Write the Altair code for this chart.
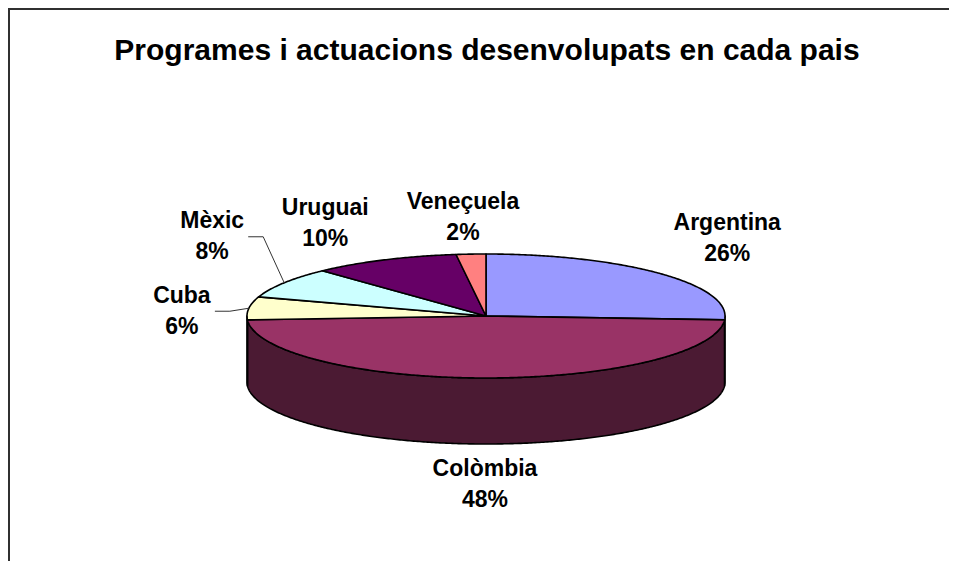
import math
import altair as alt
import pandas as pd

# ---------------- data ----------------
countries = ["Argentina", "Colòmbia", "Cuba", "Mèxic", "Uruguai", "Veneçuela"]
shares = [26, 48, 6, 8, 10, 2]
title_text = "Programes i actuacions desenvolupats en cada pais"

# ---------------- styles ----------------
top_colors = ["#9999FF", "#993366", "#FFFFCC", "#CCFFFF", "#660066", "#FF8080"]
side_colors = ["#4D4D80", "#4B1A33", "#808066", "#668080", "#330033", "#804040"]
FONT = "Liberation Sans"

# ---------------- layout (plot-area pixels) ----------------
M = 8
W, H = 941, 553
CX, CY = 486 - M, 316 - M
RX, RY = 239, 62
DEPTH = 66
STEP = 0.5
LINE_H = 31
# label block centre offset from the slice's rim point at its mid angle
label_offsets = {
    "Argentina": (67, -35),
    "Colòmbia": (-1, 40),
    "Cuba": (-67, 3),
    "Mèxic": (-72, -46),
    "Uruguai": (-59, -36),
    "Veneçuela": (-8, -37),
}
# leader lines: (start dx from label centre, elbow dx from label centre)
leaders = {"Mèxic": (36, 51), "Cuba": (33, 48)}


def pt(tdeg, dy=0.0):
    t = math.radians(tdeg)
    return [CX + RX * math.sin(t), CY - RY * math.cos(t) + dy]


def arc(a, b, dy=0.0):
    pts = []
    t = a
    while t < b:
        pts.append(pt(t, dy))
        t += STEP
    pts.append(pt(b, dy))
    return pts


total = sum(shares)
tops, sides, labels, lead_rows = [], [], [], []
cum = 0.0
for name, v in zip(countries, shares):
    t0 = cum / total * 360.0
    cum += v
    t1 = cum / total * 360.0
    ring = [[CX, CY]] + arc(t0, t1) + [[CX, CY]]
    tops.append({"type": "Feature", "properties": {"key": name},
                 "geometry": {"type": "Polygon", "coordinates": [ring]}})
    a, b = max(t0, 90.0), min(t1, 270.0)
    if a < b:
        upper = arc(a, b)
        lower = arc(a, b, DEPTH)[::-1]
        sring = upper + lower + [upper[0]]
        sides.append({"type": "Feature", "properties": {"key": name + " side"},
                      "geometry": {"type": "Polygon", "coordinates": [sring]}})
    tm = (t0 + t1) / 2.0
    ax, ay = pt(tm)
    if math.cos(math.radians(tm)) < 0:
        ay += DEPTH
    dx, dy = label_offsets[name]
    lx, ly = ax + dx, ay + dy
    labels.append({"lx": lx, "ly": ly - LINE_H / 2, "label": f"{name}\n{v}%"})
    if name in leaders:
        s, e = leaders[name]
        lead_rows += [
            {"name": name, "seq": 0, "x": lx + s, "y": ly},
            {"name": name, "seq": 1, "x": lx + e, "y": ly},
            {"name": name, "seq": 2, "x": ax, "y": ay},
        ]

domain = countries + [c + " side" for c in countries]
crange = top_colors + side_colors
color = alt.Color("properties.key:N", scale=alt.Scale(domain=domain, range=crange), legend=None)
proj = dict(type="identity", scale=1, translate=[0, 0])

side_layer = alt.Chart(alt.Data(values=sides)).mark_geoshape(
    stroke="black", strokeWidth=1.6, strokeJoin="round"
).encode(color=color).project(**proj)

top_layer = alt.Chart(alt.Data(values=tops)).mark_geoshape(
    stroke="black", strokeWidth=1.6, strokeJoin="round"
).encode(color=color).project(**proj)

lead_layer = alt.Chart(pd.DataFrame(lead_rows)).mark_line(
    stroke="#333333", strokeWidth=1
).encode(longitude="x:Q", latitude="y:Q", detail="name:N", order="seq:Q").project(**proj)

label_layer = alt.Chart(pd.DataFrame(labels)).mark_text(
    font=FONT, fontSize=23, fontWeight="bold", color="black",
    align="center", baseline="middle", lineBreak="\n", lineHeight=LINE_H
).encode(longitude="lx:Q", latitude="ly:Q", text="label:N").project(**proj)

one = pd.DataFrame({"t": [title_text]})
title_layer = alt.Chart(one).mark_text(
    font=FONT, fontSize=30, fontWeight="bold", color="black",
    align="center", baseline="middle"
).encode(x=alt.value(487 - M), y=alt.value(51 - M), text="t:N")

border_top = alt.Chart(one).mark_rule(color="#303030", strokeWidth=2).encode(
    x=alt.value(0), x2=alt.value(W), y=alt.value(1)
)
border_left = alt.Chart(one).mark_rule(color="#303030", strokeWidth=2).encode(
    x=alt.value(1), y=alt.value(0), y2=alt.value(H)
)

chart = alt.layer(
    border_top, border_left, side_layer, top_layer, lead_layer, label_layer, title_layer
).properties(
    width=W, height=H, padding=0, autosize=alt.AutoSizeParams(type="none"),
    background="white"
).configure_view(stroke=None)

chart.save("out.html", embed_options={"renderer": "svg", "actions": False})
